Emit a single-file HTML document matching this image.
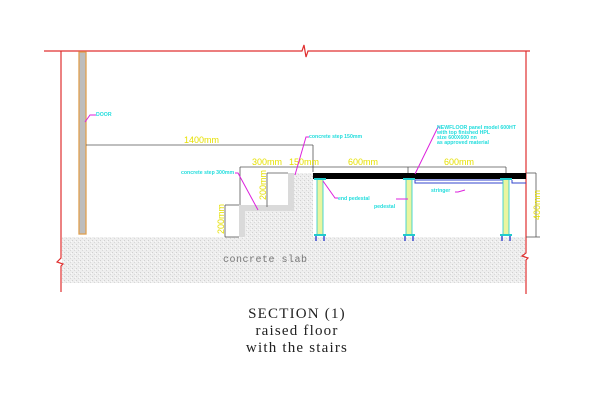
<!DOCTYPE html>
<html><head><meta charset="utf-8"><style>
html,body{margin:0;padding:0;background:#fff;width:600px;height:400px;overflow:hidden}
</style></head><body>
<svg width="600" height="400" viewBox="0 0 600 400" xmlns="http://www.w3.org/2000/svg">
<defs>
<pattern id="sp" width="4" height="4" patternUnits="userSpaceOnUse">
<rect width="4" height="4" fill="#eeeeee"/>
<rect x="0" y="0" width="1" height="1" fill="#d0d0d0"/>
<rect x="2" y="2" width="1" height="1" fill="#d8d8d8"/>
<rect x="3" y="1" width="1" height="1" fill="#fafafa"/>
</pattern>
</defs>
<rect x="62" y="237" width="463" height="46" fill="url(#sp)"/>
<path d="M239,205 H288 V173 H313 V237 H239 Z" fill="url(#sp)"/>
<path d="M239,205 H288 V173 H294 V211 H245 V237 H239 Z" fill="#dadada"/>
<g stroke="#e03030" stroke-width="1.2" fill="none">
<path d="M44,51 H302 L304,45 L306,57 L308,51 H530"/>
<path d="M61,51 V258 L57,262 L63,264 L61,266 V292"/>
<path d="M526,51 V253 L522,256 L528,258 L526,260 V294"/>
</g>
<rect x="79" y="52" width="7" height="182" fill="#bdbdbd" stroke="#e0a050" stroke-width="1.3"/>
<g stroke="#555" stroke-width="0.8">
<line x1="86" y1="145" x2="313" y2="145"/>
<line x1="313" y1="145" x2="313" y2="172"/>
<line x1="240" y1="167" x2="313" y2="167"/>
<line x1="240" y1="167" x2="240" y2="205"/>
<line x1="267" y1="173" x2="288" y2="173"/>
<line x1="267" y1="173" x2="267" y2="207"/>
<line x1="225" y1="205" x2="239" y2="205"/>
<line x1="225" y1="205" x2="225" y2="237"/>
<line x1="225" y1="237" x2="239" y2="237"/>
<line x1="313" y1="167" x2="506" y2="167"/>
<line x1="506" y1="167" x2="506" y2="173"/>
<line x1="408" y1="167" x2="408" y2="173"/>
<line x1="526" y1="173" x2="536" y2="173"/>
<line x1="536" y1="173" x2="536" y2="237"/>
<line x1="526" y1="237" x2="540" y2="237"/>
</g>
<g fill="#e6e000" font-family="Liberation Sans, sans-serif" font-size="9">
<text x="184" y="143">1400mm</text>
<text x="252" y="165">300mm</text>
<text x="289" y="165">150mm</text>
<text x="348" y="165">600mm</text>
<text x="444" y="165">600mm</text>
<text x="0" y="0" transform="translate(266,200) rotate(-90)">200mm</text>
<text x="0" y="0" transform="translate(224,234) rotate(-90)">200mm</text>
<text x="0" y="0" transform="translate(540,220) rotate(-90)">400mm</text>
</g>
<rect x="313" y="173" width="213" height="6" fill="#000"/>
<rect x="415" y="180" width="88" height="3" fill="none" stroke="#3344cc" stroke-width="1"/>
<path d="M512,180 V183 H526" fill="none" stroke="#3344cc" stroke-width="1"/>
<g>
<g transform="translate(320,0)"><rect x="-3" y="179" width="6" height="56" fill="#eaf5a0" stroke="#22cccc" stroke-width="0.8"/><rect x="-6" y="178" width="12" height="2" fill="#22cccc"/><rect x="-6" y="234" width="12" height="2" fill="#22cccc"/><path d="M-4,236v5M4,236v5" stroke="#2233cc" stroke-width="1.3"/></g>
<g transform="translate(409,0)"><rect x="-3" y="179" width="6" height="56" fill="#eaf5a0" stroke="#22cccc" stroke-width="0.8"/><rect x="-6" y="178" width="12" height="2" fill="#22cccc"/><rect x="-6" y="234" width="12" height="2" fill="#22cccc"/><path d="M-4,236v5M4,236v5" stroke="#2233cc" stroke-width="1.3"/></g>
<g transform="translate(506,0)"><rect x="-3" y="179" width="6" height="56" fill="#eaf5a0" stroke="#22cccc" stroke-width="0.8"/><rect x="-6" y="178" width="12" height="2" fill="#22cccc"/><rect x="-6" y="234" width="12" height="2" fill="#22cccc"/><path d="M-4,236v5M4,236v5" stroke="#2233cc" stroke-width="1.3"/></g>
</g>
<g stroke="#dd22dd" stroke-width="1" fill="none">
<path d="M85,122 L90,115 H96"/>
<path d="M258,210 L238,173 H235"/>
<path d="M295,175 L306,137 H309"/>
<path d="M323,181 L335,198 H338"/>
<path d="M408,199 H396"/>
<path d="M465,190 L458,192 H455"/>
<path d="M415,174 L438,127 H440"/>
</g>
<g fill="#22dddd" font-family="Liberation Sans, sans-serif" font-size="5.2" font-weight="bold">
<text x="96" y="116">DOOR</text>
<text x="181" y="174">concrete step 300mm</text>
<text x="309" y="138">concrete step 150mm</text>
<text x="338" y="200">end pedestal</text>
<text x="374" y="208">pedestal</text>
<text x="431" y="192">stringer</text>
<text x="437" y="129">NEWFLOOR panel model 600HT</text>
<text x="437" y="134">with top finished HPL</text>
<text x="437" y="139">size 600X600 nn</text>
<text x="437" y="144">as approved material</text>
</g>
<text x="223" y="262" font-family="Liberation Mono, monospace" font-size="10" fill="#777" letter-spacing="0.5">concrete slab</text>
<g font-family="Liberation Serif, serif" font-size="15" fill="#222" text-anchor="middle" letter-spacing="1.2">
<text x="297" y="318">SECTION (1)</text>
<text x="297" y="335">raised floor</text>
<text x="297" y="352">with the stairs</text>
</g>
</svg>
</body></html>
